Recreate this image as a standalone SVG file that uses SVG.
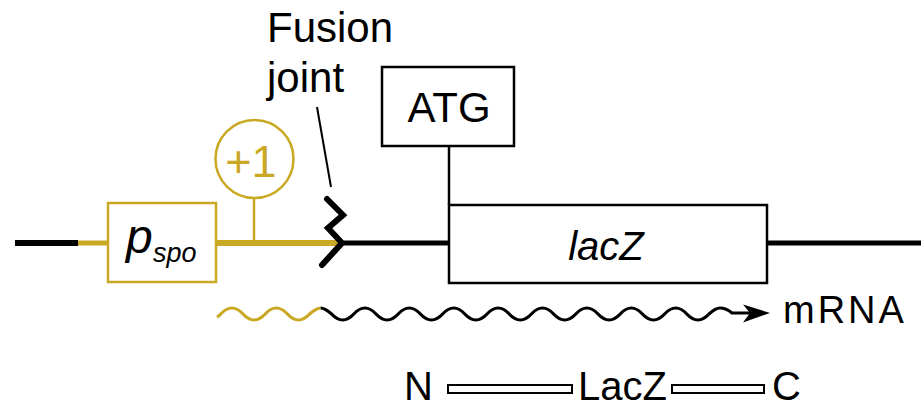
<svg xmlns="http://www.w3.org/2000/svg" width="921" height="408" viewBox="0 0 921 408">
<style>
text{font-family:"Liberation Sans",Arial,sans-serif;fill:#000}
.gold{stroke:#C9A824;fill:none}
.blk{stroke:#000;fill:none}
.box{fill:#fff;stroke-width:2.5}
</style>
<rect width="921" height="408" fill="#fff"/>
<g id="connectors">
<line class="blk" x1="15" y1="243" x2="78" y2="243" stroke-width="6"/>
<line class="gold" x1="78" y1="243" x2="108" y2="243" stroke-width="5"/>
<line class="gold" x1="216" y1="243" x2="340" y2="243" stroke-width="6"/>
<line class="blk" x1="340" y1="243" x2="450" y2="243" stroke-width="5"/>
<line class="blk" x1="767" y1="243" x2="921" y2="243" stroke-width="5"/>
<line class="gold" x1="254" y1="198" x2="254" y2="243" stroke-width="2.5"/>
<line class="blk" x1="449" y1="146" x2="449" y2="205" stroke-width="2.5"/>
<line class="blk" x1="317" y1="107" x2="331" y2="187" stroke-width="2"/>
<polyline class="blk" points="327,199 343,215 328,228 342,243 322,265" stroke-width="6" stroke-linecap="round" stroke-linejoin="miter"/>
<path class="gold" stroke-width="3.2" d="M217,317 Q219,316 220.8,314 q11.1,-12 22.2,0 t22.2,0 t22.2,0 t22.2,0 Q316.6,308 320.7,308"/>
<path class="blk" stroke-width="3.2" d="M320.7,308 Q324.6,308 331.6,314 q11.1,12 22.2,0 t22.2,0 t22.2,0 t22.2,0 t22.2,0 t22.2,0 t22.2,0 t22.2,0 t22.2,0 t22.2,0 t22.2,0 t22.2,0 t22.2,0 t22.2,0 t22.2,0 t22.2,0 t22.2,0 Q715.5,308 720,308 Q726,308 732,313 L750,313"/>
<polygon points="770,313 743,304.5 750,313 743,322.5" fill="#000"/>
</g>
<g id="fusion-label">
<text x="267" y="42" font-size="42">Fusion</text>
<text x="267" y="92" font-size="42">joint</text>
</g>
<g id="pspo">
<rect class="gold box" x="108" y="203" width="108" height="79"/>
<text x="126" y="253" font-size="48" font-style="italic">p</text>
<text x="153" y="262" font-size="27" font-style="italic">spo</text>
</g>
<g id="plus1">
<circle class="gold" cx="254.5" cy="159" r="39" stroke-width="2.5" fill="#fff"/>
<text x="251" y="177" font-size="45" text-anchor="middle" style="fill:#C9A824">+1</text>
</g>
<g id="atg">
<rect class="blk box" x="382" y="67" width="132" height="79"/>
<text x="449" y="122" font-size="42" text-anchor="middle">ATG</text>
</g>
<g id="lacZ">
<rect class="blk box" x="449" y="205" width="318" height="78"/>
<text x="606" y="260" font-size="40" font-style="italic" text-anchor="middle">lacZ</text>
</g>
<g id="mrna">
<text x="783" y="323" font-size="38" letter-spacing="3">mRNA</text>
</g>
<g id="protein">
<text x="404" y="400" font-size="40">N</text>
<rect x="448" y="385" width="124" height="8" fill="none" stroke="#000" stroke-width="2"/>
<text x="578" y="400" font-size="40">LacZ</text>
<rect x="672" y="385" width="92" height="8" fill="none" stroke="#000" stroke-width="2"/>
<text x="772" y="400" font-size="40">C</text>
</g>
</svg>
